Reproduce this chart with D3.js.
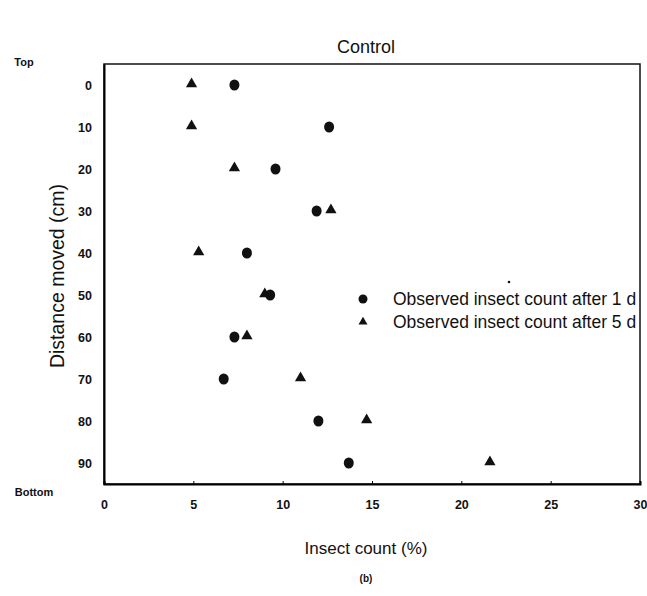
<!DOCTYPE html>
<html>
<head>
<meta charset="utf-8">
<script src="https://cdn.jsdelivr.net/npm/d3@7"></script>
<style>
  body { margin: 0; background: #fff; }
  text { font-family: "Liberation Sans", Arial, sans-serif; fill: #111; }
  .tick text { font-weight: bold; font-size: 12.5px; }
</style>
</head>
<body>
<script>
// distance moved (cm), top -> bottom
var distances = [0, 10, 20, 30, 40, 50, 60, 70, 80, 90]
// insect count (%) after 1 d and after 5 d
var countDay1 = [7.3, 12.6, 9.6, 11.9, 8.0, 9.3, 7.3, 6.7, 12.0, 13.7]
var countDay5 = [4.9, 4.9, 7.3, 12.7, 5.3, 9.0, 8.0, 11.0, 14.7, 21.6]
var xTicks = [0, 5, 10, 15, 20, 25, 30]
var legendLabels = ["Observed insect count after 1 d", "Observed insect count after 5 d"]

var width = 647, height = 596
var margin = {left: 104, right: 7, top: 64, bottom: 112}

var svg = d3.select("body").append("svg")
  .attr("width", width)
  .attr("height", height)

var x = d3.scaleLinear().domain([0, 30]).range([margin.left, width - margin.right])
var y = d3.scaleLinear().domain([-5, 95]).range([margin.top, height - margin.bottom])

// frame
svg.append("rect")
  .attr("x", x(0)).attr("y", y(-5))
  .attr("width", x(30) - x(0)).attr("height", y(95) - y(-5))
  .attr("fill", "none").attr("stroke", "#111").attr("stroke-width", 1.5)

var xAxis = svg.append("g")
  .attr("transform", "translate(0," + y(95) + ")")
  .call(d3.axisBottom(x).tickValues(xTicks).tickSize(-3).tickPadding(16))
xAxis.select(".domain").attr("stroke-width", 2)

var yAxis = svg.append("g")
  .attr("transform", "translate(" + x(0) + ",0)")
  .call(d3.axisLeft(y).tickValues(distances).tickSize(0).tickPadding(12))
yAxis.select(".domain").attr("stroke-width", 2)

// clip for legend text running off the right edge
svg.append("clipPath").attr("id", "plotclip")
  .append("rect")
  .attr("x", x(0)).attr("y", y(-5))
  .attr("width", x(30) - x(0)).attr("height", y(95) - y(-5))

var rows = distances.map(function(d, i) {
  return {dist: d, c1: countDay1[i], c5: countDay5[i]}
})

var tri = d3.symbol().type(d3.symbolTriangle).size(55)

svg.append("g").selectAll("path")
  .data(rows).enter().append("path")
  .attr("d", tri)
  .attr("transform", function(d) { return "translate(" + x(d.c5) + "," + (y(d.dist) - 1) + ")" })
  .attr("fill", "#111")

svg.append("g").selectAll("ellipse")
  .data(rows).enter().append("ellipse")
  .attr("cx", function(d) { return x(d.c1) })
  .attr("cy", function(d) { return y(d.dist) })
  .attr("rx", 5).attr("ry", 5.5)
  .attr("fill", "#111")

// legend
var legend = svg.append("g").attr("clip-path", "url(#plotclip)")
legend.append("circle").attr("cx", 363).attr("cy", 299).attr("r", 4.5).attr("fill", "#111")
legend.append("path").attr("d", d3.symbol().type(d3.symbolTriangle).size(35))
  .attr("transform", "translate(363,322)").attr("fill", "#111")
legend.selectAll("text.leg")
  .data(legendLabels).enter().append("text")
  .attr("class", "leg")
  .attr("x", 393)
  .attr("y", function(d, i) { return 305 + i * 23 })
  .style("font-size", "17.5px")
  .text(function(d) { return d })

svg.append("circle").attr("cx", 509).attr("cy", 282).attr("r", 1.3).attr("fill", "#111")

// titles and labels
svg.append("text").attr("x", 366).attr("y", 53)
  .attr("text-anchor", "middle").style("font-size", "18px").text("Control")

svg.append("text").attr("x", 24).attr("y", 66)
  .attr("text-anchor", "middle").style("font-size", "11px").style("font-weight", "bold").text("Top")

svg.append("text").attr("x", 34).attr("y", 496)
  .attr("text-anchor", "middle").style("font-size", "11px").style("font-weight", "bold").text("Bottom")

svg.append("text")
  .attr("transform", "translate(64," + (y(45) + 2) + ") rotate(-90)")
  .attr("text-anchor", "middle").style("font-size", "19.5px")
  .text("Distance moved (cm)")

svg.append("text").attr("x", 366).attr("y", 554)
  .attr("text-anchor", "middle").style("font-size", "17px").text("Insect count (%)")

svg.append("text").attr("x", 366).attr("y", 582)
  .attr("text-anchor", "middle").style("font-size", "10px").style("font-weight", "bold").text("(b)")
</script>
</body>
</html>
